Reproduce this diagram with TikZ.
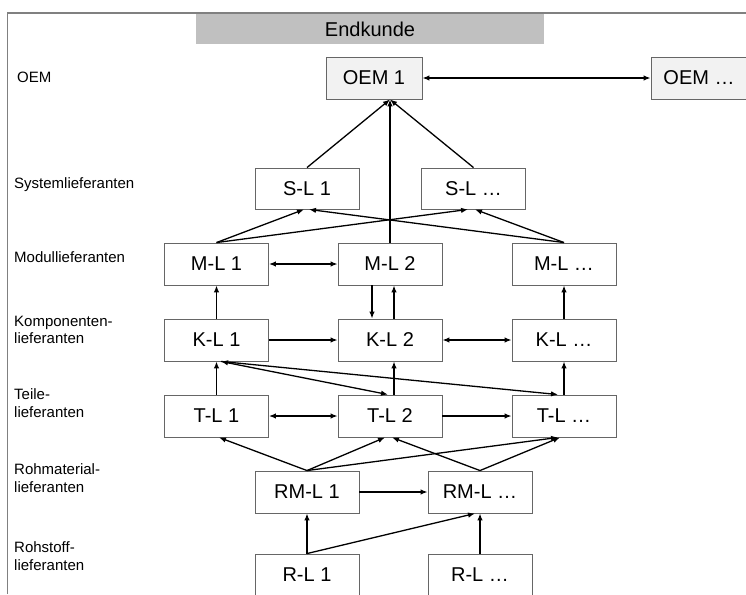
\documentclass[tikz,border=0pt]{standalone}
\usepackage{fontspec}
\setmainfont{Liberation Sans}
\usetikzlibrary{arrows.meta,calc}
\definecolor{framegray}{HTML}{808080}
\definecolor{boxgray}{HTML}{666666}
\definecolor{barfill}{HTML}{C0C0C0}
\definecolor{oemfill}{HTML}{F2F2F2}
\begin{document}
\begin{tikzpicture}[x=1pt,y=-1pt,
  lbox/.style={draw=boxgray,line width=0.9pt,minimum width=104pt,minimum height=42pt,
    inner sep=0pt,font=\fontsize{20}{23}\selectfont},
  oembox/.style={lbox,fill=oemfill,minimum width=96pt},
  levellabel/.style={anchor=west,align=left,inner sep=0pt,
    font=\fontsize{15}{17.5}\selectfont},
  link/.style={line width=1.3pt,draw=black},
  tip/.style={-{Latex[length=7pt,width=5.5pt]}},
  both/.style={{Latex[length=7pt,width=5.5pt]}-{Latex[length=7pt,width=5.5pt]}}
]
\useasboundingbox (0,0) rectangle (746,594);
\begin{scope}
\clip (0,0) rectangle (746,594);

% frame lines
\draw[framegray,line width=1.5pt] (7.5,594) -- (7.5,13) -- (746,13);

% end customer bar
\node[fill=barfill,minimum width=348pt,minimum height=30pt,inner sep=0pt,
  font=\fontsize{20}{23}\selectfont] (end) at (370,29) {Endkunde};

% level labels
\node[levellabel] (lOEM) at (17,77) {OEM};
\node[levellabel] (lS) at (14,185) {Systemlieferanten};
\node[levellabel] (lM) at (14,257) {Modullieferanten};
\node[levellabel] (lK) at (14,330) {Komponenten-\\lieferanten};
\node[levellabel] (lT) at (14,403) {Teile-\\lieferanten};
\node[levellabel] (lRM) at (14,478) {Rohmaterial-\\lieferanten};
\node[levellabel] (lR) at (14,556) {Rohstoff-\\lieferanten};

% boxes
\node[oembox] (OEM1) at (374,78) {OEM 1};
\node[oembox] (OEMx) at (699,78) {OEM …};
\node[lbox,minimum height=41pt] (SL1) at (307,188.5) {S-L 1};
\node[lbox,minimum height=41pt] (SLx) at (473.5,188.5) {S-L …};
\node[lbox] (ML1) at (216.5,264) {M-L 1};
\node[lbox] (ML2) at (390,264) {M-L 2};
\node[lbox] (MLx) at (564,264) {M-L …};
\node[lbox] (KL1) at (216.5,340) {K-L 1};
\node[lbox] (KL2) at (390,340) {K-L 2};
\node[lbox] (KLx) at (564,340) {K-L …};
\node[lbox] (TL1) at (216.5,416) {T-L 1};
\node[lbox] (TL2) at (390,416) {T-L 2};
\node[lbox] (TLx) at (564,416) {T-L …};
\node[lbox] (RM1) at (307,492) {RM-L 1};
\node[lbox] (RMx) at (480,492) {RM-L …};
\node[lbox] (R1) at (307,575) {R-L 1};
\node[lbox] (Rx) at (480,575) {R-L …};

% OEM level
\draw[link,both] (OEM1.east) -- (OEMx.west);
\coordinate (apex) at (ML2.north |- OEM1.south);
\draw[link,tip] (SL1.north) -- (apex);
\draw[link,tip] (SLx.north) -- (apex);
\draw[link,tip] (ML2.north) -- (apex);

% module to system suppliers
\draw[link,tip] (ML1.north) -- ($(SL1.south)+(-3,0)$);
\draw[link,tip] (ML1.north) -- ($(SLx.south)+(-5.5,0)$);
\draw[link,tip] (MLx.north) -- ($(SL1.south)+(2,0)$);
\draw[link,tip] (MLx.north) -- ($(SLx.south)+(1.5,0)$);
\draw[link,both] (ML1.east) -- (ML2.west);

% component level
\draw[link,tip] (KL1.north) -- (ML1.south);
\draw[link,tip] ($(ML2.south)+(-18,0)$) -- ($(KL2.north)+(-18,0)$);
\draw[link,tip] ($(KL2.north)+(4,0)$) -- ($(ML2.south)+(4,0)$);
\draw[link,tip] (KLx.north) -- (MLx.south);
\draw[link,tip] (KL1.east) -- (KL2.west);
\draw[link,both] (KL2.east) -- (KLx.west);

% parts level
\draw[link,tip] (TL1.north) -- (KL1.south);
\draw[link,tip] ($(TL2.north)+(4,0)$) -- ($(KL2.south)+(4,0)$);
\draw[link,tip] (TLx.north) -- (KLx.south);
\coordinate (klfoot) at ($(KL1.south)+(4.5,0)$);
\draw[link,both] (klfoot) -- ($(TL2.north)+(-2,0)$);
\draw[link,tip] (klfoot) -- ($(TLx.north)+(-6,0)$);
\draw[link,both] (TL1.east) -- (TL2.west);
\draw[link,tip] (TL2.east) -- (TLx.west);

% raw material level
\draw[link,tip] (RM1.north) -- ($(TL1.south)+(2.5,0)$);
\draw[link,tip] (RM1.north) -- ($(TL2.south)+(-5,0)$);
\draw[link,tip] (RM1.north) -- ($(TLx.south)+(-6,0)$);
\draw[link,tip] (RMx.north) -- ($(TL2.south)+(2,0)$);
\draw[link,tip] (RMx.north) -- ($(TLx.south)+(-4,0)$);
\draw[link,tip] (RM1.east) -- (RMx.west);

% raw resource level
\draw[link,tip] (R1.north) -- (RM1.south);
\draw[link,tip] (R1.north) -- ($(RMx.south)+(-5,0)$);
\draw[link,tip] (Rx.north) -- (RMx.south);
\end{scope}
\end{tikzpicture}
\end{document}
